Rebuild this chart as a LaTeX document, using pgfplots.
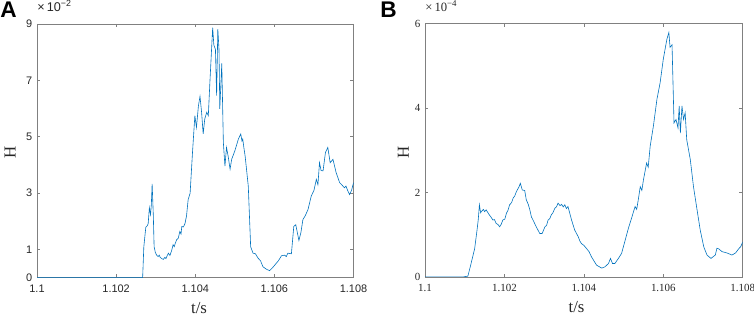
\documentclass[border=0pt]{standalone}
\usepackage{fontspec}
\setmainfont{Liberation Serif}
\setsansfont{Liberation Sans}
\usepackage{pgfplots}
\pgfplotsset{compat=1.18}
\definecolor{mblue}{HTML}{0072BD}
\definecolor{axgray}{HTML}{808080}
\definecolor{txt}{HTML}{262626}
\begin{document}
\begin{tikzpicture}
\useasboundingbox (0,0) rectangle (565.5pt,237pt);
\pgfplotsset{
  common/.style={
    scale only axis,
    xmin=1.1, xmax=1.108,
    xtick={1.1,1.102,1.104,1.106,1.108},
    xticklabels={1.1,1.102,1.104,1.106,1.108},
    axis line style={axgray, line width=0.6pt},
    tick style={axgray, line width=0.5pt},
    major tick length=2.5pt,
    tick align=inside,
    tick label style={txt, font=\fontsize{8.2pt}{9pt}\selectfont},
    xticklabel style={yshift=-2pt},
    label style={font=\fontsize{12.6pt}{14pt}\selectfont, txt},
    ylabel={H}, xlabel={t/s},
  }
}
% Panel A
\begin{axis}[common, name=axA,
  at={(27.75pt,28.7pt)}, anchor=south west,
  width=237.4pt, height=190.3pt,
  ymin=0, ymax=9, ytick={0,1,3,5,7,9},
  tick label style={font=\sffamily\fontsize{8.2pt}{9pt}\selectfont},
  /pgf/number format/assume math mode=true,
  xlabel style={at={(axis description cs:0.512,-0.119)}, anchor=center},
  ylabel style={at={(axis description cs:-0.085,0.493)}, anchor=center, rotate=0},
]
\addplot[mblue, line width=0.45pt] coordinates {
(1.1,0) (1.10267,0) (1.10270,1.1) (1.10275,1.79) (1.10279,1.85) (1.10281,1.92)
(1.10284,2.48) (1.10287,2.24) (1.10289,2.6) (1.10291,3.33) (1.10294,2.2) (1.10296,1.1)
(1.10299,0.9) (1.10302,0.81) (1.10306,0.75) (1.10309,0.8) (1.10311,0.73) (1.10315,0.68) (1.10319,0.65)
(1.10323,0.72) (1.10326,0.68) (1.10328,0.75) (1.10332,0.87) (1.10336,0.79) (1.10340,0.95) (1.10344,1.17)
(1.10347,1.1) (1.10349,1.2) (1.10353,1.35) (1.10357,1.4) (1.10361,1.64) (1.10364,1.55) (1.10366,1.82)
(1.10370,1.8) (1.10374,1.92) (1.10378,2.2) (1.10382,2.77) (1.10387,3.0) (1.10393,4.44)
(1.10399,5.75) (1.10403,5.33) (1.10408,6.1) (1.10412,6.43) (1.10416,5.87) (1.10420,5.1)
(1.10424,5.63) (1.10429,5.87) (1.10433,5.75) (1.10437,6.94) (1.10444,8.87) (1.10447,8.25)
(1.10451,8.1) (1.10454,6.46) (1.10457,8.82) (1.10460,8.1) (1.10462,5.99) (1.10467,7.6)
(1.10471,4.8) (1.10475,3.96) (1.10479,4.62) (1.10483,4.32) (1.10488,3.85) (1.10492,4.2)
(1.10500,4.5) (1.10509,4.92) (1.10515,5.1) (1.10518,4.85) (1.10520,4.92) (1.10523,4.6) (1.10526,4.32) (1.10534,3.25)
(1.10540,1.1) (1.10546,0.87) (1.10552,0.85) (1.10559,0.69) (1.10565,0.6) (1.10571,0.39)
(1.10580,0.3) (1.10588,0.25) (1.10595,0.35) (1.10601,0.45) (1.10610,0.6) (1.10618,0.78)
(1.10626,0.8) (1.10630,0.75) (1.10634,0.87) (1.10643,0.85) (1.10649,1.82) (1.10654,1.88) (1.10658,1.6)
(1.10662,1.32) (1.10667,1.6) (1.10672,2.06) (1.10678,2.2) (1.10685,2.42) (1.10693,2.89)
(1.10700,3.1) (1.10706,3.49) (1.10710,3.3) (1.10714,4.08) (1.10718,3.8) (1.10723,3.79)
(1.10729,4.44) (1.10735,4.62) (1.10741,4.08) (1.10748,4.2) (1.10756,3.73) (1.10765,3.37)
(1.10770,3.3) (1.10777,3.19) (1.10781,3.25) (1.10785,3.1) (1.10790,2.95) (1.10795,3.1) (1.10800,3.37)
};
\end{axis}
\node[anchor=base west, txt, font=\sffamily\fontsize{9.5pt}{10pt}\selectfont, inner sep=0pt]
  at ([yshift=9pt]axA.north west) {×\,10\textsuperscript{−2}};
% Panel B
\begin{axis}[common, name=axB,
  at={(318.75pt,29.25pt)}, anchor=south west,
  width=238.3pt, height=190pt,
  ymin=0, ymax=6, ytick={0,2,4,6},
  tick label style={font=\rmfamily\fontsize{8.2pt}{9pt}\selectfont},
  /pgf/number format/assume math mode=true,
  xlabel style={at={(axis description cs:0.477,-0.119)}, anchor=center},
  ylabel style={at={(axis description cs:-0.068,0.493)}, anchor=center, rotate=0},
]
\addplot[mblue, line width=0.45pt] coordinates {
(1.1,0) (1.10095,0) (1.10108,0.02) (1.10116,0.32) (1.10125,0.67) (1.10131,1.11)
(1.10134,1.35) (1.10137,1.71) (1.10140,1.52) (1.10142,1.55) (1.10147,1.6) (1.10150,1.55) (1.10154,1.59) (1.10162,1.47)
(1.10166,1.42) (1.10171,1.35) (1.10175,1.36) (1.10179,1.27) (1.10184,1.24) (1.10188,1.19) (1.10192,1.25) (1.10196,1.35) (1.10201,1.37) (1.10205,1.51)
(1.10209,1.58) (1.10213,1.71) (1.10218,1.76) (1.10222,1.87) (1.10226,1.92) (1.10230,2.02) (1.10237,2.14) (1.10240,2.22) (1.10245,2.06)
(1.10251,2.05) (1.10255,1.83) (1.10260,1.72) (1.10264,1.59) (1.10268,1.42) (1.10272,1.35) (1.10280,1.19) (1.10289,1.03)
(1.10295,1.03) (1.10302,1.19) (1.10306,1.22) (1.10310,1.35) (1.10314,1.38) (1.10318,1.47) (1.10322,1.52) (1.10327,1.63) (1.10331,1.66) (1.10335,1.75)
(1.10340,1.69) (1.10344,1.72) (1.10348,1.66) (1.10352,1.71) (1.10356,1.62) (1.10360,1.67) (1.10369,1.35) (1.10377,1.11) (1.10386,0.95)
(1.10390,0.85) (1.10394,0.79) (1.10400,0.75) (1.10407,0.67) (1.10413,0.6) (1.10419,0.48) (1.10432,0.28) (1.10445,0.21) (1.10453,0.24)
(1.10462,0.32) (1.10467,0.44) (1.10472,0.32) (1.10478,0.32) (1.10487,0.44) (1.10495,0.56)
(1.10504,0.87) (1.10512,1.15) (1.10520,1.39) (1.10529,1.67) (1.10533,1.6) (1.10537,1.83) (1.10542,2.14)
(1.10546,2.05) (1.10550,2.3) (1.10558,2.7) (1.10562,2.6) (1.10567,3.1) (1.10575,3.57) (1.10584,4.21) (1.10592,4.6)
(1.10600,5.16) (1.10609,5.63) (1.10614,5.79) (1.10617,5.44) (1.10622,5.5) (1.10627,3.65)
(1.10632,3.73) (1.10637,3.53) (1.10640,4.05) (1.10643,3.41) (1.10647,4.05) (1.10651,3.73)
(1.10655,3.89) (1.10659,3.25) (1.10668,2.78) (1.10676,2.14) (1.10685,1.59) (1.10693,1.11)
(1.10702,0.71) (1.10710,0.52) (1.10720,0.44) (1.10731,0.52) (1.10735,0.68) (1.10739,0.67) (1.10748,0.6)
(1.10760,0.57) (1.10773,0.52) (1.10782,0.57) (1.10790,0.67) (1.10795,0.72) (1.10800,0.83)
};
\end{axis}
\node[anchor=base west, txt, font=\rmfamily\fontsize{9.5pt}{10pt}\selectfont, inner sep=0pt]
  at ([yshift=9pt]axB.north west) {×\,10\textsuperscript{−4}};
\node[anchor=north west, inner sep=0pt, font=\sffamily\bfseries\fontsize{17pt}{18pt}\selectfont] at (0pt,236pt) {A};
\node[anchor=north west, inner sep=0pt, font=\sffamily\bfseries\fontsize{17pt}{18pt}\selectfont] at (285pt,236pt) {B};
\end{tikzpicture}
\end{document}
